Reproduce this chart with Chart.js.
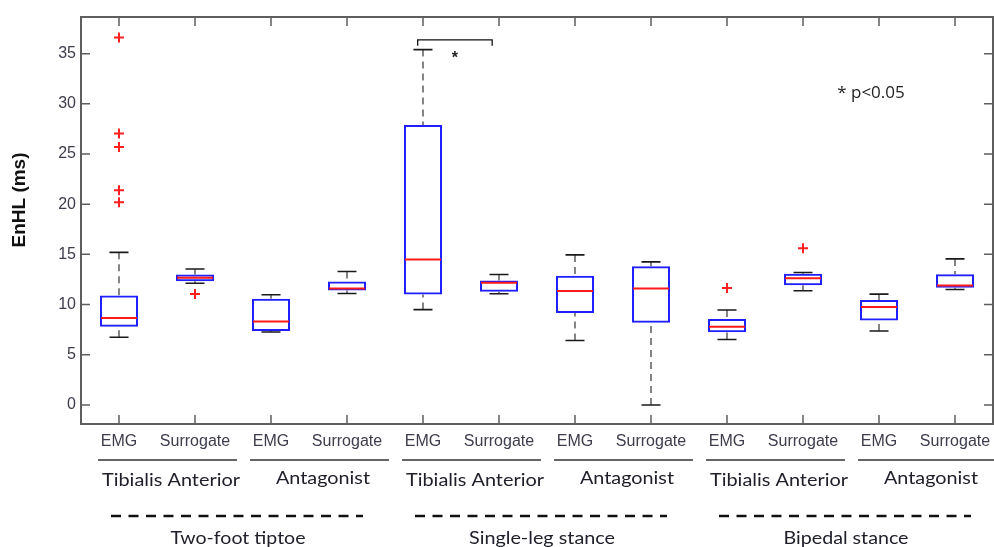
<!DOCTYPE html>
<html>
<head>
<meta charset="utf-8">
<script src="https://cdn.jsdelivr.net/npm/chart.js@4.4.1/dist/chart.umd.min.js"></script>
<style>
    html, body { margin: 0; padding: 0; background: #fff; }
    #wrap { width: 994px; height: 547px; }
</style>
</head>
<body>
<div id="wrap"><canvas id="enhlBox" width="994" height="547"></canvas></div>
<script>
// Axis labels
const xLabels = ['EMG', 'Surrogate', 'EMG', 'Surrogate', 'EMG', 'Surrogate',
                 'EMG', 'Surrogate', 'EMG', 'Surrogate', 'EMG', 'Surrogate'];
const yTicks = [0, 5, 10, 15, 20, 25, 30, 35];
const muscles = ['Tibialis Anterior', 'Antagonist', 'Tibialis Anterior', 'Antagonist', 'Tibialis Anterior', 'Antagonist'];
const conditions = ['Two-foot tiptoe', 'Single-leg stance', 'Bipedal stance'];

// Box statistics (ms), one entry per box, left to right
const whiskerLow  = [6.75, 12.13, 7.27, 11.1, 9.5, 11.08, 6.42, 0.0, 6.52, 11.38, 7.37, 11.5];
const q1          = [7.8, 12.33, 7.37, 11.4, 11.0, 11.28, 9.16, 8.2, 7.24, 11.93, 8.4, 11.67];
const median      = [8.66, 12.67, 8.3, 11.6, 14.5, 12.17, 11.34, 11.6, 7.8, 12.63, 9.75, 11.9];
const q3          = [10.9, 13.0, 10.58, 12.3, 27.9, 12.4, 12.87, 13.82, 8.56, 13.06, 10.45, 13.03];
const whiskerHigh = [15.2, 13.55, 10.98, 13.3, 35.4, 13.0, 14.95, 14.25, 9.46, 13.19, 11.04, 14.55];
const outliers = [
    [36.6, 27.05, 25.7, 21.4, 20.2], [11.04], [], [],
    [], [], [], [],
    [11.64], [15.6], [], []
];

// significance between box 5 and box 6
const sigFrom = 4.93;
const sigTo = 5.91;
const sigLevel = 36.38;

const boxPos = xLabels.map((_, i) => i + 1);

const outlierPoints = [];
outliers.forEach((list, i) => list.forEach(v => outlierPoints.push({ x: boxPos[i], y: v })));

const frameColor = '#5e5e5e';
const labelFont = '18px Lato, "Open Sans", sans-serif';

// text squeezed or stretched to the width it has in the figure
function fitText(ctx, text, cx, y, width) {
    const w = ctx.measureText(text).width;
    ctx.save();
    ctx.translate(cx, y);
    ctx.scale(width / w, 1);
    ctx.textAlign = 'center';
    ctx.fillText(text, 0, 0);
    ctx.restore();
}

const boxDecor = {
    id: 'boxDecor',
    beforeDatasetsDraw(chart) {
        const { ctx } = chart;
        const xs = chart.scales.x, ys = chart.scales.y;
        const capHalf = xs.getPixelForValue(1.125) - xs.getPixelForValue(1);
        ctx.save();
        boxPos.forEach((p, i) => {
            const px = xs.getPixelForValue(p);
            // whiskers
            ctx.setLineDash([7, 5]);
            ctx.strokeStyle = '#444';
            ctx.lineWidth = 1.3;
            ctx.beginPath();
            ctx.moveTo(px, ys.getPixelForValue(whiskerHigh[i]));
            ctx.lineTo(px, ys.getPixelForValue(q3[i]));
            ctx.moveTo(px, ys.getPixelForValue(whiskerLow[i]));
            ctx.lineTo(px, ys.getPixelForValue(q1[i]));
            ctx.stroke();
            // caps
            ctx.setLineDash([]);
            ctx.strokeStyle = '#1a1a1a';
            ctx.lineWidth = 1.6;
            ctx.beginPath();
            [whiskerHigh[i], whiskerLow[i]].forEach(v => {
                const py = ys.getPixelForValue(v);
                ctx.moveTo(px - capHalf, py);
                ctx.lineTo(px + capHalf, py);
            });
            ctx.stroke();
        });
        ctx.restore();
    },
    afterDatasetsDraw(chart) {
        const { ctx } = chart;
        const xs = chart.scales.x, ys = chart.scales.y;
        const boxHalf = xs.getPixelForValue(1.25) - xs.getPixelForValue(1) - 1;
        ctx.save();
        ctx.strokeStyle = '#ff1a1a';
        ctx.lineWidth = 2;
        boxPos.forEach((p, i) => {
            const px = xs.getPixelForValue(p);
            const py = ys.getPixelForValue(median[i]);
            ctx.beginPath();
            ctx.moveTo(px - boxHalf, py);
            ctx.lineTo(px + boxHalf, py);
            ctx.stroke();
        });
        ctx.restore();
    },
    afterDraw(chart) {
        const { ctx, chartArea: a } = chart;
        const xs = chart.scales.x, ys = chart.scales.y;
        ctx.save();

        // frame and inward ticks
        ctx.strokeStyle = frameColor;
        ctx.lineWidth = 2;
        ctx.strokeRect(a.left, a.top, a.right - a.left, a.bottom - a.top);
        ctx.lineWidth = 1.5;
        ctx.beginPath();
        yTicks.forEach(v => {
            const py = ys.getPixelForValue(v);
            ctx.moveTo(a.left, py); ctx.lineTo(a.left + 9, py);
            ctx.moveTo(a.right, py); ctx.lineTo(a.right - 9, py);
        });
        boxPos.forEach(p => {
            const px = xs.getPixelForValue(p);
            ctx.moveTo(px, a.top); ctx.lineTo(px, a.top + 9);
            ctx.moveTo(px, a.bottom); ctx.lineTo(px, a.bottom - 9);
        });
        ctx.stroke();

        // significance bracket
        const bx1 = xs.getPixelForValue(sigFrom), bx2 = xs.getPixelForValue(sigTo);
        const by = ys.getPixelForValue(sigLevel);
        ctx.strokeStyle = '#111';
        ctx.lineWidth = 1.3;
        ctx.beginPath();
        ctx.moveTo(bx1, by + 6); ctx.lineTo(bx1, by); ctx.lineTo(bx2, by); ctx.lineTo(bx2, by + 6);
        ctx.stroke();
        ctx.fillStyle = '#222';
        ctx.font = 'bold 16px "Liberation Sans", Arial, sans-serif';
        ctx.textAlign = 'center';
        ctx.textBaseline = 'alphabetic';
        ctx.fillText('*', xs.getPixelForValue((sigFrom + sigTo) / 2), by + 23);

        // p-value note
        ctx.font = '17px "Open Sans", sans-serif';
        ctx.textAlign = 'left';
        ctx.fillText('* p<0.05', xs.getPixelForValue(10.45), ys.getPixelForValue(30.6), 70);

        // y title
        ctx.save();
        ctx.translate(20, 200);
        ctx.rotate(-Math.PI / 2);
        ctx.font = 'bold 19px "Liberation Sans", Arial, sans-serif';
        ctx.fillStyle = '#111';
        ctx.textAlign = 'center';
        ctx.textBaseline = 'middle';
        ctx.fillText('EnHL (ms)', 0, 0);
        ctx.restore();

        // muscle groups under each EMG / Surrogate pair
        ctx.font = labelFont;
        ctx.fillStyle = '#20202c';
        ctx.textBaseline = 'alphabetic';
        muscles.forEach((name, g) => {
            const mid = (xs.getPixelForValue(boxPos[g * 2]) + xs.getPixelForValue(boxPos[g * 2 + 1])) / 2;
            ctx.strokeStyle = '#333';
            ctx.lineWidth = 1.6;
            ctx.beginPath();
            ctx.moveTo(mid - 59, 460);
            ctx.lineTo(mid + 80, 460);
            ctx.stroke();
            const isTA = name.startsWith('Tibialis');
            fitText(ctx, name, mid + 14, isTA ? 486 : 484, isTA ? 138 : 94);
        });

        // tasks under each group of four boxes
        conditions.forEach((name, c) => {
            const mid = (xs.getPixelForValue(boxPos[c * 4]) + xs.getPixelForValue(boxPos[c * 4 + 3])) / 2;
            ctx.strokeStyle = '#111';
            ctx.lineWidth = 2.6;
            ctx.setLineDash([10, 7.5]);
            ctx.beginPath();
            ctx.moveTo(mid - 122, 516);
            ctx.lineTo(mid + 130, 516);
            ctx.stroke();
            ctx.setLineDash([]);
            fitText(ctx, name, mid + 5, 544, [135, 146, 125][c]);
        });

        ctx.restore();
    }
};

new Chart(document.getElementById('enhlBox').getContext('2d'), {
    type: 'bar',
    data: {
        datasets: [{
            label: 'IQR',
            data: boxPos.map((p, i) => ({ x: p, y: [q1[i], q3[i]] })),
            backgroundColor: 'rgba(0,0,0,0)',
            borderColor: '#1f1fff',
            borderWidth: 2,
            borderSkipped: false,
            barPercentage: 0.5,
            categoryPercentage: 1.0
        }, {
            type: 'scatter',
            label: 'Outliers',
            data: outlierPoints,
            pointStyle: 'cross',
            radius: 5,
            borderColor: '#ff2020',
            borderWidth: 2
        }]
    },
    options: {
        responsive: false,
        animation: false,
        layout: { autoPadding: false, padding: { top: 17, right: 1, left: 0, bottom: 0 } },
        plugins: {
            legend: { display: false },
            tooltip: { enabled: false }
        },
        scales: {
            x: {
                type: 'linear',
                offset: false,
                min: 0.5,
                max: 12.5,
                afterBuildTicks: s => { s.ticks = boxPos.map(v => ({ value: v })); },
                afterFit: s => { s.height = 123; },
                // tick marks are drawn by the plugin; the length here only spaces the labels
                grid: { display: false, drawTicks: true, tickLength: 6, offset: false },
                border: { display: false },
                ticks: {
                    autoSkip: false,
                    maxRotation: 0,
                    minRotation: 0,
                    padding: 2,
                    color: '#3c3c4c',
                    font: { size: 16, family: '"Liberation Sans", Arial, sans-serif' },
                    callback: v => xLabels[Math.round(v) - 1]
                }
            },
            y: {
                type: 'linear',
                min: -1.9,
                max: 38.65,
                afterBuildTicks: s => { s.ticks = yTicks.map(v => ({ value: v })); },
                afterFit: s => { s.width = 81; },
                grid: { display: false, drawTicks: false },
                border: { display: false },
                ticks: {
                    padding: 5,
                    color: '#3c3c4c',
                    font: { size: 16, family: '"Liberation Sans", Arial, sans-serif' }
                }
            }
        }
    },
    plugins: [boxDecor]
});
</script>
</body>
</html>
